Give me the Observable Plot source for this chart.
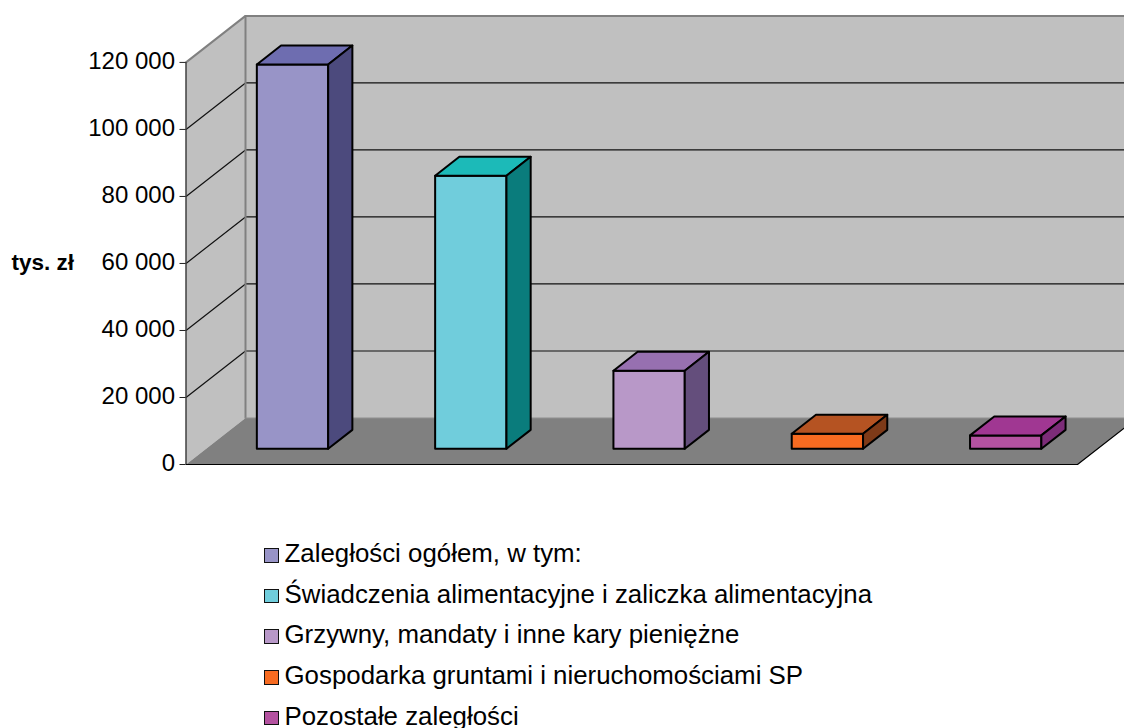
<!DOCTYPE html>
<html><head><meta charset="utf-8">
<script src="https://cdn.jsdelivr.net/npm/d3@7"></script>
<script src="https://cdn.jsdelivr.net/npm/@observablehq/plot@0.6"></script>
<style>
html,body{margin:0;padding:0;background:#fff;overflow:hidden}
#c{position:relative;width:1124px;height:728px;overflow:hidden;font-family:"Liberation Sans",Arial,sans-serif}
#c svg{display:block}
#lg{position:absolute;left:264px;top:533px;font-size:25.85px;color:#000}
.r{height:40.7px;line-height:40.7px;white-space:nowrap;display:flex;align-items:center}
.s{width:12.5px;height:12.5px;border:1.5px solid #111;margin-right:6px;flex:none;position:relative;top:2px;box-sizing:content-box}
</style></head><body><div id="c"><div id="lg"></div></div>
<script>
const categories=["Zaległości ogółem, w tym:","Świadczenia alimentacyjne i zaliczka alimentacyjna","Grzywny, mandaty i inne kary pieniężne","Gospodarka gruntami i nieruchomościami SP","Pozostałe zaległości"];
const values=[114700,81500,23300,4500,4000];
const frontColors=["#9894c7","#70cddc","#b898c8","#f76b21","#b452a0"];
const topColors=["#6e6db0","#1cbab8","#9770b0","#b55322","#a03792"];
const sideColors=["#4c4a7d","#0a7c7c","#644e7c","#7e3a18","#7c2c78"];
const yTicks=[0,20000,40000,60000,80000,100000,120000];
const yLabel="tys. zł";

const width=1124,H=480,left=185.5,bandPx=178.3,depthX=59.5/bandPx,depthY=13880;
const xMax=(width-left)/bandPx,yMax=134000;
const P=(c,v,d)=>({x:c+d*depthX,y:v+d*depthY});
const poly=(id,fill,pts)=>pts.map(p=>({id,fill,...P(...p)}));
const d0=0.338,d1=0.745,pad=0.2845,bw=0.4;

const walls=[
 ...poly("left","#c0c0c0",[[0,0,0],[0,120000,0],[0,120000,1],[0,0,1]]),
 ...poly("back","#c0c0c0",[[0,0,1],[0,120000,1],[5,120000,1],[5,0,1]]),
 ...poly("floor","#808080",[[0,0,0],[0,0,1],[5,0,1],[5,0,0]])
];
const faces=values.flatMap((v,i)=>{
  const a=i+pad,b=a+bw;
  return [
   ...poly("f"+i,frontColors[i],[[a,0,d0],[a,v,d0],[b,v,d0],[b,0,d0]]),
   ...poly("t"+i,topColors[i],[[a,v,d0],[a,v,d1],[b,v,d1],[b,v,d0]]),
   ...poly("s"+i,sideColors[i],[[b,0,d0],[b,v,d0],[b,v,d1],[b,0,d1]])
  ];
});
const grid=yTicks.slice(1,-1).flatMap(t=>[P(0,t,0),P(0,t,1),P(5,t,1)].map(p=>({...p,t})));
const backEdge=[P(0,120000,0),P(0,120000,1),P(5,120000,1)];
const closed={x:"x",y:"y",z:"id",fill:"fill",curve:"linear-closed"};
const fmt=d=>d3.format(",")(d).replace(/,/g," ");

const chart=Plot.plot({
  width,height:H,marginLeft:left,marginRight:0,marginTop:15,marginBottom:H-464,
  style:{fontFamily:'"Liberation Sans",Arial,sans-serif',background:"transparent",overflow:"hidden"},
  x:{domain:[0,xMax],axis:null},
  y:{domain:[0,yMax],axis:null},
  color:{type:"identity"},
  marks:[
    Plot.line(walls,{...closed,stroke:"none"}),
    Plot.line(grid,{x:"x",y:"y",z:"t",stroke:"#111",strokeWidth:1.2}),
    Plot.line([P(0,0,1),P(0,120000,1)],{x:"x",y:"y",stroke:"#808080",strokeWidth:2}),
    Plot.line(backEdge,{x:"x",y:"y",stroke:"#808080",strokeWidth:2}),
    Plot.line([P(0,0,1),P(5,0,1)],{x:"x",y:"y",stroke:"#909090",strokeWidth:1}),
    Plot.line([P(0,0,0),P(5,0,0),P(5,0,1)],{x:"x",y:"y",stroke:"#000",strokeWidth:1.2}),
    Plot.line(faces,{...closed,stroke:"#000",strokeWidth:2,strokeLinejoin:"round"}),
    Plot.ruleX([0],{y1:0,y2:120000,stroke:"#404040",strokeWidth:1.5}),
    Plot.axisY({ticks:yTicks,tickSize:6,fill:"none",label:null,stroke:"#202020",anchor:"left"}),
    Plot.axisY({ticks:yTicks,tickFormat:fmt,tickSize:0,tickPadding:11,fontSize:24,dy:-1.5,label:null,fill:"#000",anchor:"left"}),
    Plot.text([yLabel],{frameAnchor:"left",x:()=>0,y:()=>60000,text:d=>d,fontWeight:"bold",fontSize:22.5,textAnchor:"end",dx:-112,dy:-1,fill:"#000"})
  ]
});
const c=document.getElementById("c");
c.insertBefore(chart,c.firstChild);
const lg=document.getElementById("lg");
categories.forEach((n,i)=>{const r=document.createElement("div");r.className="r";
 const s=document.createElement("span");s.className="s";s.style.background=frontColors[i];
 r.append(s,document.createTextNode(n));lg.append(r);});
</script></body></html>
